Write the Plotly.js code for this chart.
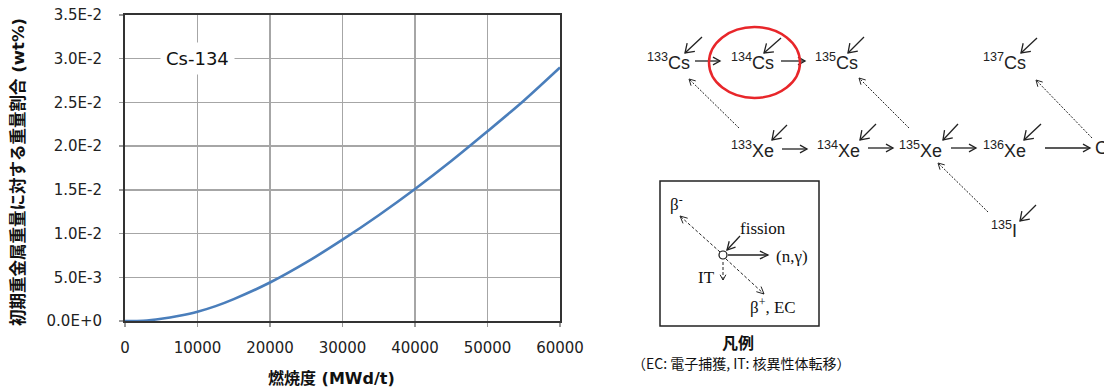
<!DOCTYPE html>
<html>
<head>
<meta charset="utf-8">
<script src="https://cdn.plot.ly/plotly-3.0.1.min.js"></script>
<style>
  html, body { margin: 0; padding: 0; background: #fff; }
  #chart { width: 1104px; height: 390px; }
</style>
</head>
<body>
<div id="chart"></div>
<script>
// Cs-134 content versus burnup
const burnup = [0, 2500, 5000, 7500, 10000, 12500, 15000, 20000, 25000, 30000, 35000, 40000, 45000, 50000, 55000, 60000];
const cs134 = [0, 0.00003, 0.00025, 0.0006, 0.00106, 0.0017, 0.0025, 0.0044, 0.0067, 0.0093, 0.0121, 0.0151, 0.0183, 0.0217, 0.0252, 0.0290];

const yTickVals = [0, 0.005, 0.010, 0.015, 0.020, 0.025, 0.030, 0.035];
const yTickText = ['0.0E+0', '5.0E-3', '1.0E-2', '1.5E-2', '2.0E-2', '2.5E-2', '3.0E-2', '3.5E-2'];
const xTickVals = [0, 10000, 20000, 30000, 40000, 50000, 60000];

// Nuclide chain labels
const nuclides = ['133Cs', '134Cs', '135Cs', '137Cs', '133Xe', '134Xe', '135Xe', '136Xe', '135I'];

const W = 1104, H = 390;
const px = x => x / W;
const py = y => 1 - y / H;

const SANS = 'DejaVu Sans, Noto Sans CJK JP, sans-serif';
const LAB = 'Liberation Sans, Arial, sans-serif';
const SERIF = 'Liberation Serif, Times New Roman, serif';
const CJK = 'Noto Sans CJK JP, sans-serif';
const INK = '#222222';

function nuclideText(name) {
  const m = name.match(/^(\d+)(\D+)$/);
  return '<sup>' + m[1] + '</sup>' + m[2];
}

// label placement in the chain diagram (pixel centres)
const nuclidePos = {
  '133Cs': [668, 62], '134Cs': [752, 62], '135Cs': [836, 62], '137Cs': [1004, 62],
  '133Xe': [752, 149], '134Xe': [838, 149], '135Xe': [920, 149], '136Xe': [1004, 149],
  '135I': [1004, 229]
};

const annotations = [];
const shapes = [];

// text placed at a pixel position, centred
function label(text, x, y, font, extra) {
  annotations.push(Object.assign({
    xref: 'paper', yref: 'paper', x: px(x), y: py(y), xanchor: 'center', yanchor: 'middle',
    text: text, showarrow: false, font: font
  }, extra || {}));
}

// arrow from tail (x1,y1) to tip (x2,y2) with an open V head
function arrow(x1, y1, x2, y2, opt) {
  const o = Object.assign({ width: 1.3, dash: 'solid', head: 8, spread: 0.52 }, opt || {});
  shapes.push({
    type: 'line', xref: 'paper', yref: 'paper', x0: px(x1), y0: py(y1), x1: px(x2), y1: py(y2),
    line: { color: INK, width: o.width, dash: o.dash }
  });
  const ang = Math.atan2(y1 - y2, x1 - x2);
  const a1 = ang + o.spread, a2 = ang - o.spread;
  const p1 = [x2 + o.head * Math.cos(a1), y2 + o.head * Math.sin(a1)];
  const p2 = [x2 + o.head * Math.cos(a2), y2 + o.head * Math.sin(a2)];
  shapes.push({
    type: 'path', xref: 'paper', yref: 'paper',
    path: 'M' + px(p1[0]) + ',' + py(p1[1]) + ' L' + px(x2) + ',' + py(y2) + ' L' + px(p2[0]) + ',' + py(p2[1]),
    line: { color: INK, width: o.width }
  });
}

// label inside the plot
annotations.push({
  xref: 'x', yref: 'y', x: 10000, y: 0.030, text: 'Cs-134', showarrow: false,
  xanchor: 'center', yanchor: 'middle',
  font: { family: SANS, size: 18, color: '#111' }, bgcolor: '#ffffff', borderpad: 5
});

// axis titles
label('<b>燃焼度 (MWd/t)</b>', 331, 378, { family: SANS, size: 16, color: '#111' });
label('<b>初期重金属重量に対する重量割合 (wt%)</b>', 18, 172, { family: SANS, size: 16.5, color: '#111' }, { textangle: -90 });

nuclides.forEach(n => {
  const p = nuclidePos[n];
  label(nuclideText(n), p[0], p[1], { family: LAB, size: 18, color: INK });
});
label('C', 1093, 148, { family: LAB, size: 18, color: INK }, { xanchor: 'left' });

// fission yields
[[702, 37, 685, 53], [781, 38, 764, 53], [864, 37, 848, 53], [1037, 38, 1021, 53],
 [787, 125, 772, 140], [876, 124, 860, 140], [958, 124, 943, 140], [1041, 124, 1024, 140],
 [1036, 205, 1020, 221]].forEach(a => arrow(a[0], a[1], a[2], a[3], { head: 10, spread: 0.6 }));

// neutron capture (n,γ)
[[695, 61, 720, 61], [781, 61, 805, 61], [782, 149, 807, 149], [868, 148, 893, 148],
 [951, 148, 976, 148], [1045, 148, 1090, 148]].forEach(a => arrow(a[0], a[1], a[2], a[3], { head: 8, spread: 0.5 }));

// β- decay
[[739, 128, 689, 79], [909, 128, 859, 78], [1092, 138, 1036, 80], [988, 212, 938, 163]]
  .forEach(a => arrow(a[0], a[1], a[2], a[3], { width: 1, dash: '2px,1.5px', head: 7, spread: 0.5 }));

// highlight around 134Cs
shapes.push({
  type: 'circle', xref: 'paper', yref: 'paper', x0: px(709), x1: px(800), y0: py(98), y1: py(27),
  line: { color: '#e8262a', width: 2.5 }
});

// legend box
shapes.push({
  type: 'rect', xref: 'paper', yref: 'paper', x0: px(660), x1: px(819), y0: py(326), y1: py(181),
  line: { color: '#222', width: 1.5 }
});
arrow(720, 252, 680, 216, { width: 1, dash: '3px,2px', head: 8, spread: 0.45 });
arrow(726, 259, 764, 294, { width: 1, dash: '3px,2px', head: 8, spread: 0.45 });
arrow(723, 262, 723, 280, { width: 1, dash: '3px,2px', head: 6, spread: 0.5 });
arrow(740, 236, 727, 250, { width: 1.3, head: 9, spread: 0.5 });
arrow(728, 255, 768, 255, { width: 1.3, head: 9, spread: 0.45 });
shapes.push({
  type: 'circle', xref: 'paper', yref: 'paper', x0: px(719), x1: px(727), y0: py(259), y1: py(251),
  line: { color: '#111', width: 1.2 }, fillcolor: '#ffffff'
});

const legendText = [
  ['β<sup>-</sup>', 676, 203],
  ['fission', 763, 228],
  ['(n,γ)', 792, 256],
  ['IT', 706, 277],
  ['β<sup>+</sup>, EC', 773, 306]
];
legendText.forEach(t => label(t[0], t[1], t[2], { family: SERIF, size: 17, color: '#111' }));
label('<b>凡例</b>', 738, 342, { family: CJK, size: 16, color: '#111' });
label('（EC: 電子捕獲, IT: 核異性体転移）', 741, 363, { family: CJK, size: 14, color: '#111' });

const trace = {
  x: burnup, y: cs134, type: 'scatter', mode: 'lines',
  line: { color: '#4a7ebb', width: 2.6, shape: 'spline', smoothing: 0.8 },
  hoverinfo: 'x+y'
};

const layout = {
  width: W, height: H,
  margin: { l: 0, r: 0, t: 0, b: 0 },
  paper_bgcolor: '#ffffff', plot_bgcolor: '#ffffff',
  showlegend: false,
  xaxis: {
    domain: [125 / W, 560 / W], range: [0, 60000], tickvals: xTickVals, tickformat: 'd',
    showgrid: true, gridcolor: '#a6a6a6', gridwidth: 1.3, zeroline: false,
    showline: true, linecolor: '#333', linewidth: 2, mirror: true,
    ticks: 'outside', ticklen: 4, tickcolor: '#999', tickwidth: 1.3, ticklabelstandoff: 8,
    tickfont: { family: SANS, size: 15, color: '#222' },
    fixedrange: true
  },
  yaxis: {
    domain: [69 / H, 375 / H], range: [0, 0.035], tickvals: yTickVals, ticktext: yTickText,
    showgrid: true, gridcolor: '#a6a6a6', gridwidth: 1.3, zeroline: false,
    showline: true, linecolor: '#333', linewidth: 2, mirror: true,
    ticks: 'outside', ticklen: 4, tickcolor: '#999', tickwidth: 1.3, ticklabelstandoff: 14,
    tickfont: { family: SANS, size: 15, color: '#222' },
    fixedrange: true
  },
  annotations: annotations,
  shapes: shapes
};

Plotly.newPlot('chart', [trace], layout, { staticPlot: true, displayModeBar: false });
</script>
</body>
</html>
